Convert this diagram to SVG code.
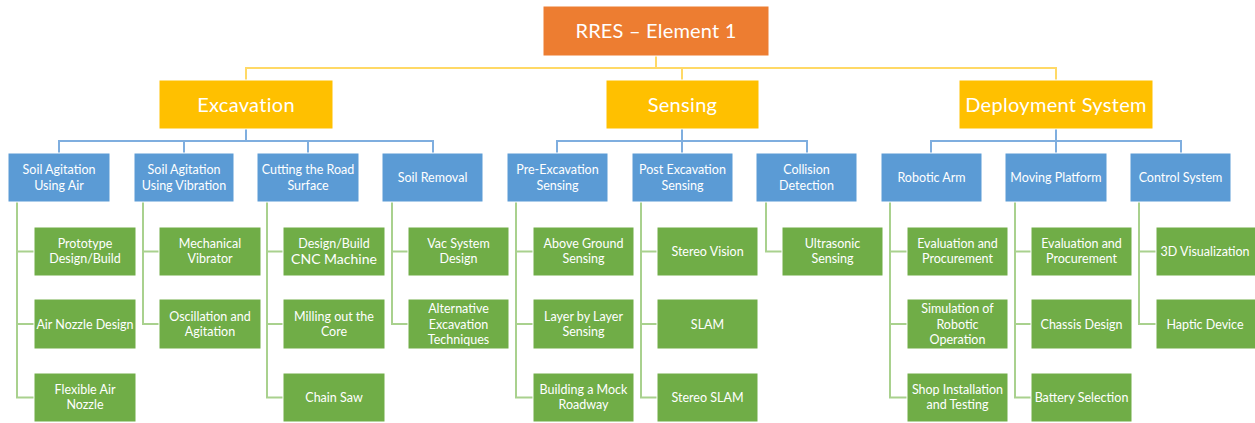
<svg xmlns="http://www.w3.org/2000/svg" width="1255" height="423" viewBox="0 0 1255 423">
  <style>
    .root { fill: #ED7D31; stroke: #fff; stroke-width: 1; }
    .l1 { fill: #FFC000; stroke: #fff; stroke-width: 1; }
    .l2 { fill: #5B9BD5; stroke: #fff; stroke-width: 1; }
    .leaf { fill: #70AD47; stroke: #fff; stroke-width: 1; }
    text { font-family: Lato, "Liberation Sans", sans-serif; fill: #fff; text-anchor: middle; }
    .t0 { font-size: 20px; letter-spacing: 0.2px; }
    .t1 { font-size: 20px; letter-spacing: 0.3px; }
    .t2 { font-size: 12.5px; }
    .t3 { font-size: 12.5px; }
    .big { font-size: 14px; }
    .cy { fill: none; stroke: #FFD966; stroke-width: 2; }
    .cb { fill: none; stroke: #7FAEDF; stroke-width: 2; }
    .cg { fill: none; stroke: #A9D18E; stroke-width: 2; }
  </style>

  <!-- connectors -->
  <g id="connectors">
    <!-- root to first level -->
    <path class="cy" d="M656 56V68M246 80V68H1056V80M682 68V80"/>
    <!-- Excavation -->
    <path class="cb" d="M246 129V141M59 153V141H433V153M184 141V153M308 141V153"/>
    <!-- Sensing -->
    <path class="cb" d="M682 129V141M557 153V141H807V153M682 141V153"/>
    <!-- Deployment System -->
    <path class="cb" d="M1056 129V141M931 153V141H1181V153M1056 141V153"/>
    <!-- leaf links -->
    <path class="cg" d="M17 202V397.5H34M17 251.5H34M17 324H34"/>
    <path class="cg" d="M143 202V324H159M143 251.5H159"/>
    <path class="cg" d="M267 202V397.5H283M267 251.5H283M267 324H283"/>
    <path class="cg" d="M392 202V324H408M392 251.5H408"/>
    <path class="cg" d="M516 202V397.5H533M516 251.5H533M516 324H533"/>
    <path class="cg" d="M641 202V397.5H657M641 251.5H657M641 324H657"/>
    <path class="cg" d="M766 202V251.5H782"/>
    <path class="cg" d="M890 202V397.5H907M890 251.5H907M890 324H907"/>
    <path class="cg" d="M1015 202V397.5H1031M1015 251.5H1031M1015 324H1031"/>
    <path class="cg" d="M1139 202V324H1156M1139 251.5H1156"/>
  </g>

  <!-- root -->
  <g id="rres">
    <rect class="root" x="543" y="6" width="226" height="50"/>
    <text class="t0" x="656" y="38">RRES – Element 1</text>
  </g>

  <!-- first level -->
  <g id="excavation">
    <rect class="l1" x="159" y="80" width="174" height="49"/>
    <text class="t1" x="246" y="111.5">Excavation</text>
  </g>
  <g id="sensing">
    <rect class="l1" x="606" y="80" width="153" height="49"/>
    <text class="t1" x="682.5" y="111.5">Sensing</text>
  </g>
  <g id="deployment">
    <rect class="l1" x="959" y="80" width="194" height="49"/>
    <text class="t1" x="1056" y="111.5">Deployment System</text>
  </g>

  <!-- second level -->
  <g id="agitation-air">
    <rect class="l2" x="8" y="153" width="102" height="49"/>
    <text class="t2" x="59" y="174">Soil Agitation<tspan x="59" dy="15.5">Using Air</tspan></text>
  </g>
  <g id="agitation-vibration">
    <rect class="l2" x="134" y="153" width="100" height="49"/>
    <text class="t2" x="184" y="174">Soil Agitation<tspan x="184" dy="15.5">Using Vibration</tspan></text>
  </g>
  <g id="cutting">
    <rect class="l2" x="257" y="153" width="102" height="49"/>
    <text class="t2" x="308" y="174">Cutting the Road<tspan x="308" dy="15.5">Surface</tspan></text>
  </g>
  <g id="soil-removal">
    <rect class="l2" x="382" y="153" width="101" height="49"/>
    <text class="t2" x="432.5" y="182">Soil Removal</text>
  </g>
  <g id="pre-excavation">
    <rect class="l2" x="507" y="153" width="101" height="49"/>
    <text class="t2" x="557.5" y="174">Pre-Excavation<tspan x="557.5" dy="15.5">Sensing</tspan></text>
  </g>
  <g id="post-excavation">
    <rect class="l2" x="632" y="153" width="101" height="49"/>
    <text class="t2" x="682.5" y="174">Post Excavation<tspan x="682.5" dy="15.5">Sensing</tspan></text>
  </g>
  <g id="collision">
    <rect class="l2" x="756" y="153" width="101" height="49"/>
    <text class="t2" x="806.5" y="174">Collision<tspan x="806.5" dy="15.5">Detection</tspan></text>
  </g>
  <g id="robotic-arm">
    <rect class="l2" x="881" y="153" width="101" height="49"/>
    <text class="t2" x="931.5" y="182">Robotic Arm</text>
  </g>
  <g id="moving-platform">
    <rect class="l2" x="1005" y="153" width="102" height="49"/>
    <text class="t2" x="1056" y="182">Moving Platform</text>
  </g>
  <g id="control-system">
    <rect class="l2" x="1130" y="153" width="101" height="49"/>
    <text class="t2" x="1180.5" y="182">Control System</text>
  </g>

  <!-- leaves: Soil Agitation Using Air -->
  <g id="prototype">
    <rect class="leaf" x="34" y="227" width="102" height="49"/>
    <text class="t3" x="85" y="247.5">Prototype<tspan x="85" dy="15.5">Design/Build</tspan></text>
  </g>
  <g id="air-nozzle">
    <rect class="leaf" x="34" y="299" width="102" height="50"/>
    <text class="t3" x="85" y="328.5">Air Nozzle Design</text>
  </g>
  <g id="flexible-nozzle">
    <rect class="leaf" x="34" y="373" width="102" height="49"/>
    <text class="t3" x="85" y="393.5">Flexible Air<tspan x="85" dy="15.5">Nozzle</tspan></text>
  </g>

  <!-- leaves: Soil Agitation Using Vibration -->
  <g id="mech-vibrator">
    <rect class="leaf" x="159" y="227" width="102" height="49"/>
    <text class="t3" x="210" y="247.5">Mechanical<tspan x="210" dy="15.5">Vibrator</tspan></text>
  </g>
  <g id="oscillation">
    <rect class="leaf" x="159" y="299" width="102" height="50"/>
    <text class="t3" x="210" y="320.5">Oscillation and<tspan x="210" dy="15.5">Agitation</tspan></text>
  </g>

  <!-- leaves: Cutting the Road Surface -->
  <g id="cnc">
    <rect class="leaf" x="283" y="227" width="102" height="49"/>
    <text class="t3" x="334" y="247.5">Design/Build<tspan class="big" x="334" dy="16">CNC Machine</tspan></text>
  </g>
  <g id="milling">
    <rect class="leaf" x="283" y="299" width="102" height="50"/>
    <text class="t3" x="334" y="320.5">Milling out the<tspan x="334" dy="15.5">Core</tspan></text>
  </g>
  <g id="chain-saw">
    <rect class="leaf" x="283" y="373" width="102" height="49"/>
    <text class="t3" x="334" y="402">Chain Saw</text>
  </g>

  <!-- leaves: Soil Removal -->
  <g id="vac-system">
    <rect class="leaf" x="408" y="227" width="101" height="49"/>
    <text class="t3" x="458.5" y="247.5">Vac System<tspan x="458.5" dy="15.5">Design</tspan></text>
  </g>
  <g id="alt-excavation">
    <rect class="leaf" x="408" y="299" width="101" height="50"/>
    <text class="t3" x="458.5" y="313">Alternative<tspan x="458.5" dy="15.5">Excavation</tspan><tspan x="458.5" dy="15.5">Techniques</tspan></text>
  </g>

  <!-- leaves: Pre-Excavation Sensing -->
  <g id="above-ground">
    <rect class="leaf" x="533" y="227" width="101" height="49"/>
    <text class="t3" x="583.5" y="247.5">Above Ground<tspan x="583.5" dy="15.5">Sensing</tspan></text>
  </g>
  <g id="layer-by-layer">
    <rect class="leaf" x="533" y="299" width="101" height="50"/>
    <text class="t3" x="583.5" y="320.5">Layer by Layer<tspan x="583.5" dy="15.5">Sensing</tspan></text>
  </g>
  <g id="mock-roadway">
    <rect class="leaf" x="533" y="373" width="101" height="49"/>
    <text class="t3" x="583.5" y="393.5">Building a Mock<tspan x="583.5" dy="15.5">Roadway</tspan></text>
  </g>

  <!-- leaves: Post Excavation Sensing -->
  <g id="stereo-vision">
    <rect class="leaf" x="657" y="227" width="101" height="49"/>
    <text class="t3" x="707.5" y="256">Stereo Vision</text>
  </g>
  <g id="slam">
    <rect class="leaf" x="657" y="299" width="101" height="50"/>
    <text class="t3" x="707.5" y="328.5">SLAM</text>
  </g>
  <g id="stereo-slam">
    <rect class="leaf" x="657" y="373" width="101" height="49"/>
    <text class="t3" x="707.5" y="402">Stereo SLAM</text>
  </g>

  <!-- leaves: Collision Detection -->
  <g id="ultrasonic">
    <rect class="leaf" x="782" y="227" width="101" height="49"/>
    <text class="t3" x="832.5" y="247.5">Ultrasonic<tspan x="832.5" dy="15.5">Sensing</tspan></text>
  </g>

  <!-- leaves: Robotic Arm -->
  <g id="arm-eval">
    <rect class="leaf" x="907" y="227" width="101" height="49"/>
    <text class="t3" x="957.5" y="247.5">Evaluation and<tspan x="957.5" dy="15.5">Procurement</tspan></text>
  </g>
  <g id="arm-simulation">
    <rect class="leaf" x="907" y="299" width="101" height="50"/>
    <text class="t3" x="957.5" y="313">Simulation of<tspan x="957.5" dy="15.5">Robotic</tspan><tspan x="957.5" dy="15.5">Operation</tspan></text>
  </g>
  <g id="arm-shop">
    <rect class="leaf" x="907" y="373" width="101" height="49"/>
    <text class="t3" x="957.5" y="393.5">Shop Installation<tspan x="957.5" dy="15.5">and Testing</tspan></text>
  </g>

  <!-- leaves: Moving Platform -->
  <g id="platform-eval">
    <rect class="leaf" x="1031" y="227" width="101" height="49"/>
    <text class="t3" x="1081.5" y="247.5">Evaluation and<tspan x="1081.5" dy="15.5">Procurement</tspan></text>
  </g>
  <g id="chassis">
    <rect class="leaf" x="1031" y="299" width="101" height="50"/>
    <text class="t3" x="1081.5" y="328.5">Chassis Design</text>
  </g>
  <g id="battery">
    <rect class="leaf" x="1031" y="373" width="101" height="49"/>
    <text class="t3" x="1081.5" y="402">Battery Selection</text>
  </g>

  <!-- leaves: Control System -->
  <g id="visualization">
    <rect class="leaf" x="1156" y="227" width="100" height="49"/>
    <text class="t3" x="1205" y="256">3D Visualization</text>
  </g>
  <g id="haptic">
    <rect class="leaf" x="1156" y="299" width="100" height="50"/>
    <text class="t3" x="1205" y="328.5">Haptic Device</text>
  </g>
</svg>
